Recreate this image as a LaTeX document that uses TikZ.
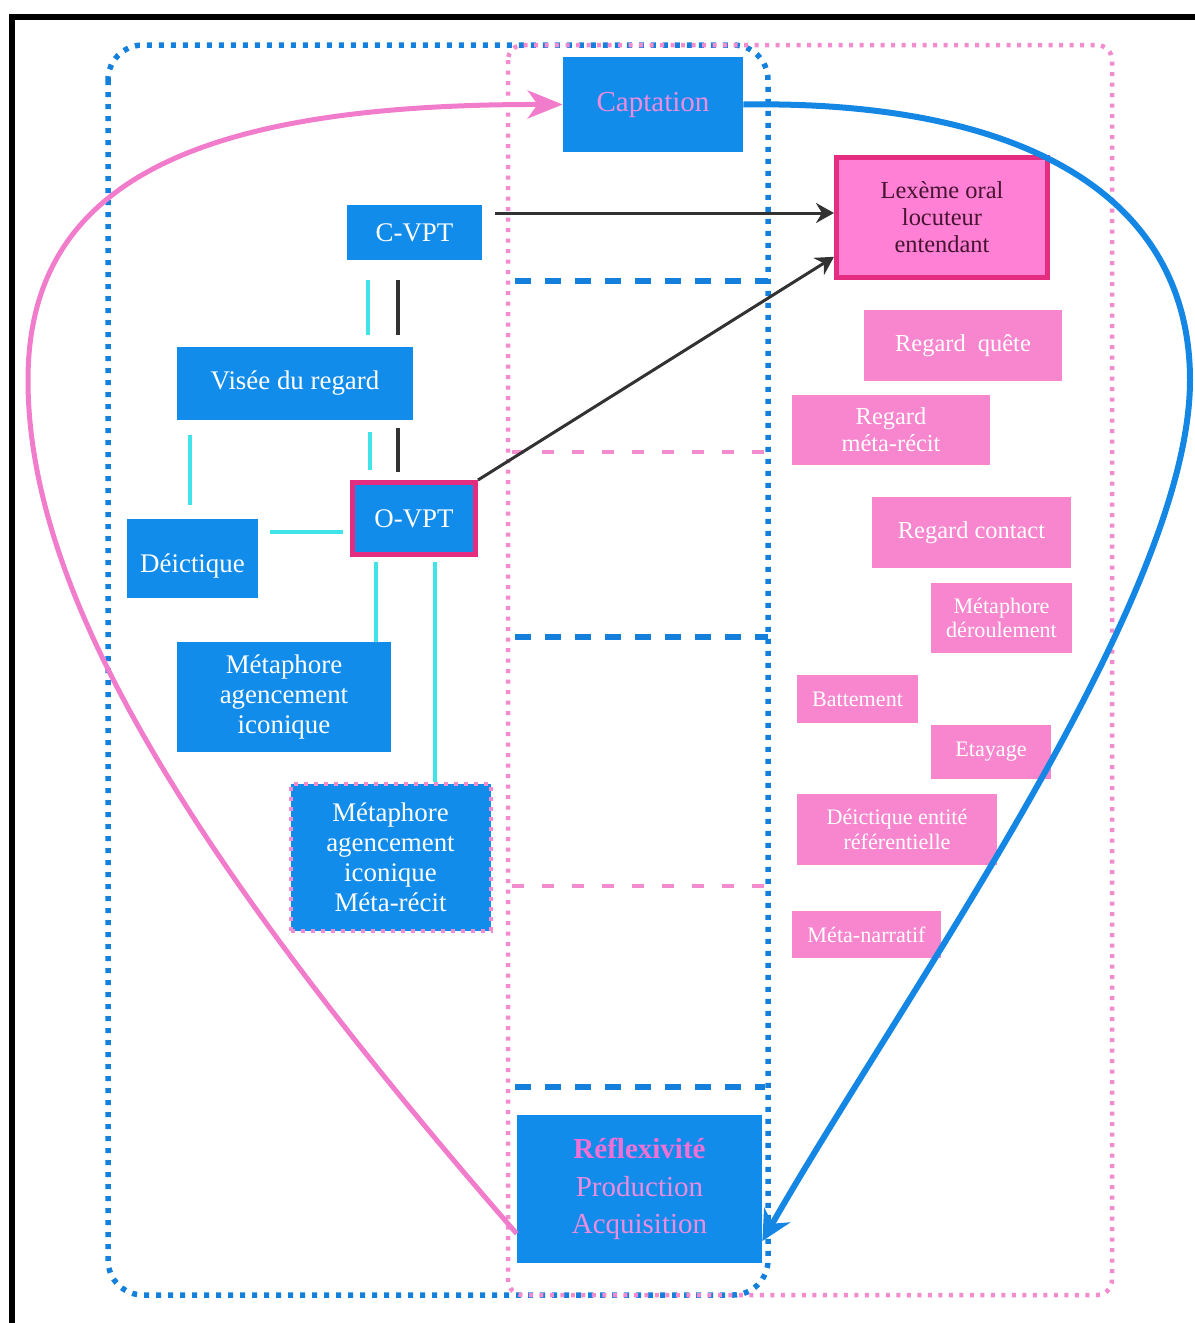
\documentclass[tikz,border=0pt]{standalone}
\usepackage{fontspec}
\setmainfont{Liberation Serif}
\usepackage{xcolor}
\usepackage{tikz}
\usetikzlibrary{arrows.meta, calc}
\definecolor{BoxBlue}{RGB}{18,140,235}
\definecolor{BoxPink}{RGB}{248,134,206}
\definecolor{LexPink}{RGB}{255,128,212}
\definecolor{BorderMagenta}{RGB}{228,44,128}
\definecolor{CyanLine}{RGB}{64,228,232}
\definecolor{DotBlue}{RGB}{20,128,220}
\definecolor{DotPink}{RGB}{242,140,206}
\definecolor{CurvePink}{RGB}{242,124,204}
\definecolor{CurveBlue}{RGB}{20,134,228}
\definecolor{TextPink}{RGB}{236,140,222}
\definecolor{ReflPink}{RGB}{240,112,214}
\definecolor{DarkGray}{RGB}{50,50,50}
\definecolor{LexText}{RGB}{70,20,50}
\newcommand\txtbig{\fontsize{15.3}{17}\selectfont}
\newcommand\txtmid{\fontsize{13.9}{15.3}\selectfont}
\newcommand\txtsmall{\fontsize{12.6}{13.8}\selectfont}
\newcommand\txtcap{\fontsize{16.5}{18}\selectfont}
\newcommand\txtrefl{\fontsize{16.5}{21.5}\selectfont}

\begin{document}
\begin{tikzpicture}[
  x=0.2mm, y=-0.2mm,
  sz/.style 2 args={minimum width=#1, minimum height=#2},
  bluebox/.style={fill=BoxBlue, text=white, font=\txtbig, align=center, inner sep=0pt},
  pinkbox/.style={fill=BoxPink, text=white, align=center, inner sep=0pt},
  bluedot/.style={DotBlue, line width=1.1mm, dash pattern=on 1mm off 1.4mm},
  pinkdot/.style={DotPink, line width=0.9mm, dash pattern=on 0.8mm off 1.3mm},
  bluedash/.style={DotBlue, line width=1.1mm, dash pattern=on 3.2mm off 2.8mm},
  pinkdash/.style={DotPink, line width=0.9mm, dash pattern=on 2.4mm off 3.6mm},
  link/.style={CyanLine, line width=0.8mm},
  blackline/.style={DarkGray, line width=0.8mm},
  arr/.style={-{Stealth[length=3.6mm, width=4mm, inset=1.2mm]}, DarkGray, line width=0.6mm},
]
\useasboundingbox (0,0) rectangle (1195,1323);
\draw[line width=1.2mm, line cap=rect] (12,1330) -- (12,17) -- (1200,17);

% cadres
\draw[bluedot, rounded corners=7mm] (108,45) rectangle (768,1295);
\draw[pinkdot, rounded corners=3mm] (508,45) rectangle (1112,1295);
\draw[bluedash] (515,281) -- (768,281);
\draw[pinkdash] (512,452) -- (765,452);
\draw[bluedash] (515,637) -- (768,637);
\draw[pinkdash] (512,886) -- (765,886);
\draw[bluedash] (515,1087) -- (765,1087);

% noeuds bleus
\node[bluebox, sz={36mm}{19mm}, text=TextPink, font=\txtcap] (capt) at (653,104.5) {Captation};
\node[bluebox, sz={27mm}{11mm}] (cvpt) at (414.5,232.5) {C-VPT};
\node[bluebox, sz={47.2mm}{14.6mm}] (visee) at (295,383.5) {Visée du regard};
\node[bluebox, sz={24.6mm}{14.4mm}, draw=BorderMagenta, line width=1mm] (ovpt) at (414,518.5) {O-VPT};
\node[bluebox, sz={26.2mm}{15.8mm}, text height=1.75em, text depth=0.2em] (deic) at (192.5,558.5) {Déictique};
\node[bluebox, sz={42.8mm}{22mm}] (meta1) at (284,697) {Métaphore\\agencement\\iconique};
\node[bluebox, sz={40mm}{29.4mm}, draw=DotPink, line width=0.8mm, dash pattern=on 0.8mm off 1.2mm] (meta2) at (390.5,857) {Métaphore\\agencement\\iconique\\Méta-récit};
\node[bluebox, sz={49mm}{29.6mm}, text=TextPink, font=\txtrefl] (refl) at (639.5,1189) {\textcolor{ReflPink}{\textbf{Réflexivité}}\\Production\\Acquisition};

% noeuds roses
\node[pinkbox, sz={42.2mm}{24mm}, fill=LexPink, draw=BorderMagenta, line width=1mm, text=LexText, font=\txtmid] (lex) at (942,217.5) {Lexème oral\\locuteur\\entendant};
\node[pinkbox, sz={39.6mm}{14.2mm}, font=\txtmid] (rquete) at (963,345.5) {Regard\ \ quête};
\node[pinkbox, sz={39.6mm}{14mm}, font=\txtmid] (rmeta) at (891,430) {Regard\\méta-récit};
\node[pinkbox, sz={39.8mm}{14.2mm}, font=\txtmid] (rcontact) at (971.5,532.5) {Regard contact};
\node[pinkbox, sz={28.2mm}{14mm}, font=\txtsmall] (mderoul) at (1001.5,618) {Métaphore\\déroulement};
\node[pinkbox, sz={24.2mm}{9.6mm}, font=\txtsmall] (batt) at (857.5,699) {Battement};
\node[pinkbox, sz={24mm}{10.8mm}, font=\txtsmall] (etay) at (991,752) {Etayage};
\node[pinkbox, sz={40mm}{14.2mm}, font=\txtsmall] (deref) at (897,829.5) {Déictique entité\\référentielle};
\node[pinkbox, sz={29.8mm}{9.4mm}, font=\txtsmall] (metanar) at (866.5,934.5) {Méta-narratif};

% grandes boucles
\draw[CurvePink, line width=1mm, -{Stealth[length=7mm, width=5.6mm, inset=2mm]}]
  ($(refl.west)!0.6!(refl.south west)$) .. controls (200,870) and (28,600) .. (28,380)
  .. controls (28,180) and (200,104) .. (capt.west);
\draw[CurveBlue, line width=1.2mm, -{Stealth[length=6mm, width=6mm, inset=2mm]}]
  (capt.east) .. controls (1030,100) and (1190,200) .. (1190,380)
  .. controls (1190,600) and (900,1000) .. ($(refl.east)!0.7!(refl.south east)$);

% liens
\draw[link, shorten <=4mm, shorten >=2.4mm] (cvpt.south -| 368,0) -- (visee.north -| 368,0);
\draw[blackline, shorten <=4mm, shorten >=2.4mm] (cvpt.south -| 398,0) -- (visee.north -| 398,0);
\draw[link, shorten <=2.4mm, shorten >=2mm] (visee.south -| 370,0) -- (ovpt.north -| 370,0);
\draw[blackline, shorten <=1.6mm, shorten >=1.6mm] (visee.south -| 398,0) -- (ovpt.north -| 398,0);
\draw[link, shorten <=3mm, shorten >=2.8mm] (visee.south -| 190,0) -- (deic.north -| 190,0);
\draw[link, shorten <=2.4mm, shorten >=1.4mm] (deic.east |- 0,532) -- (ovpt.west |- 0,532);
\draw[link, shorten <=1mm] (ovpt.south -| 376,0) -- (meta1.north -| 376,0);
\draw[link, shorten <=1mm] (ovpt.south -| 435,0) -- (meta2.north -| 435,0);

\draw[arr, shorten <=2.6mm] (cvpt.east |- 0,213) -- (lex.west |- 0,213);
\draw[arr] (ovpt.north east) -- (lex.200);
\end{tikzpicture}
\end{document}
